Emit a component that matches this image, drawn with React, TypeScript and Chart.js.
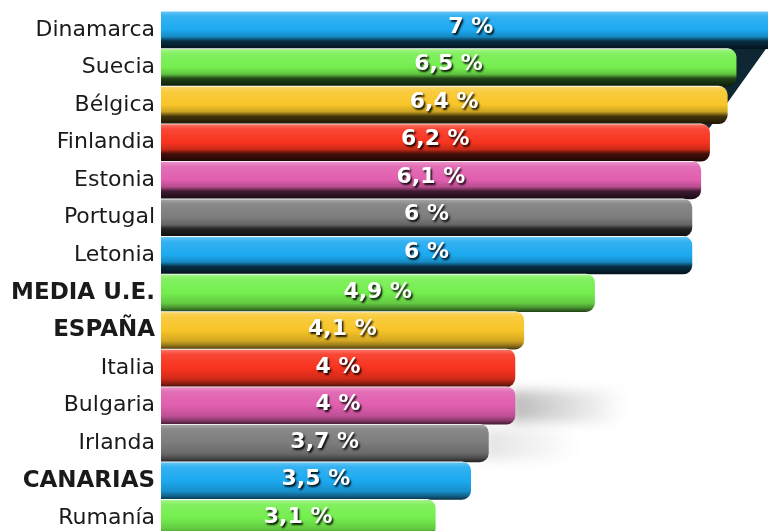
import React, { useEffect, useRef } from "react";
import { Chart, registerables } from "chart.js";

Chart.register(...registerables);

const categories = [
  "Dinamarca", "Suecia", "Bélgica", "Finlandia", "Estonia", "Portugal", "Letonia",
  "MEDIA U.E.", "ESPAÑA", "Italia", "Bulgaria", "Irlanda", "CANARIAS", "Rumanía",
];
const values = [7, 6.5, 6.4, 6.2, 6.1, 6, 6, 4.9, 4.1, 4, 4, 3.7, 3.5, 3.1];
const valueLabels = [
  "7 %", "6,5 %", "6,4 %", "6,2 %", "6,1 %", "6 %", "6 %",
  "4,9 %", "4,1 %", "4 %", "4 %", "3,7 %", "3,5 %", "3,1 %",
];
const boldCategories = ["MEDIA U.E.", "ESPAÑA", "CANARIAS"];
const barColors = [
  "#1CA9F0", "#74EE4E", "#F8C528", "#F8331F", "#E05EAE", "#7C7C7C", "#1CA9F0",
  "#74EE4E", "#F8C528", "#F8331F", "#E05EAE", "#7C7C7C", "#1CA9F0", "#74EE4E",
];

function mix(hex: string, target: string, t: number): string {
  const p = (h: string) => [1, 3, 5].map((k) => parseInt(h.slice(k, k + 2), 16));
  const a = p(hex);
  const b = p(target);
  const c = a.map((v, i) => Math.round(v + (b[i] - v) * t));
  return `rgb(${c[0]},${c[1]},${c[2]})`;
}

const glossPlugin = {
  id: "gloss",
  beforeDatasetsDraw(chart: any) {
    const ctx = chart.ctx;
    const meta = chart.getDatasetMeta(0);
    const area = chart.chartArea;
    // perspective side face under the longest bar
    const d0: any = meta.data[0];
    const d3: any = meta.data[3];
    if (d0 && d3) {
      ctx.save();
      ctx.beginPath();
      ctx.rect(area.left, area.top, area.right - area.left, area.bottom - area.top);
      ctx.clip();
      const b0 = d0.y + d0.height / 2;
      const t3 = d3.y - d3.height / 2;
      ctx.beginPath();
      ctx.moveTo(d3.x - 60, b0 - 3);
      ctx.lineTo(d0.x - 12, b0 - 3);
      ctx.lineTo(d3.x, t3 + 4);
      ctx.lineTo(d3.x - 60, t3 + 4);
      ctx.closePath();
      ctx.fillStyle = "#0F2633";
      ctx.fill();
      ctx.restore();
    }
    // soft shadow at right of lower bars
    const shadowSpecs: [number, number, number][] = [
      [10, 0.26, 110],
      [11, 0.1, 90],
    ];
    shadowSpecs.forEach(([idx, alpha, len]) => {
      const e: any = meta.data[idx];
      if (!e) return;
      ctx.save();
      const g = ctx.createLinearGradient(e.x, 0, e.x + len, 0);
      g.addColorStop(0, `rgba(0,0,0,${alpha})`);
      g.addColorStop(1, "rgba(0,0,0,0)");
      ctx.filter = "blur(6px)";
      ctx.fillStyle = g;
      ctx.fillRect(e.x - 5, e.y - e.height / 2 + 4, len + 5, e.height - 6);
      ctx.restore();
    });
    meta.data.forEach((el: any, i: number) => {
      const top = el.y - el.height / 2;
      const bottom = el.y + el.height / 2;
      const c = barColors[i];
      const g = ctx.createLinearGradient(0, top, 0, bottom);
      g.addColorStop(0, "#FFFFFF");
      g.addColorStop(0.03, mix(c, "#FFFFFF", 0.3));
      g.addColorStop(0.14, mix(c, "#FFFFFF", 0.1));
      g.addColorStop(0.5, c);
      if (i < 7) {
        g.addColorStop(0.68, mix(c, "#000000", 0.18));
        g.addColorStop(0.8, mix(c, "#000000", 0.72));
        g.addColorStop(1, mix(c, "#000000", 0.88));
      } else {
        g.addColorStop(0.78, mix(c, "#000000", 0.15));
        g.addColorStop(0.9, mix(c, "#000000", 0.4));
        g.addColorStop(1, mix(c, "#000000", 0.7));
      }
      el.options = { ...el.options, backgroundColor: g };
    });
  },
  afterDatasetsDraw(chart: any) {
    const ctx = chart.ctx;
    const meta = chart.getDatasetMeta(0);
    ctx.save();
    ctx.font = "bold 22px 'DejaVu Sans'";
    ctx.textAlign = "center";
    ctx.textBaseline = "middle";
    meta.data.forEach((el: any, i: number) => {
      const cx = (el.x + el.base) / 2;
      const cy = el.y - (i < 7 ? 3 : 1);
      ctx.shadowColor = "rgba(0,0,0,0.9)";
      ctx.shadowOffsetX = 1.5;
      ctx.shadowOffsetY = 2;
      ctx.shadowBlur = 2;
      ctx.fillStyle = "#FFFFFF";
      ctx.fillText(valueLabels[i], cx, cy);
    });
    ctx.restore();
  },
};

export default function App() {
  const canvasRef = useRef<HTMLCanvasElement | null>(null);

  useEffect(() => {
    document.body.style.margin = "0";
    const canvas = canvasRef.current;
    if (!canvas) return;
    const chart = new Chart(canvas, {
      type: "bar",
      data: {
        labels: categories,
        datasets: [
          {
            data: values,
            backgroundColor: barColors,
            borderWidth: 0,
            borderRadius: 9,
            borderSkipped: "start",
            categoryPercentage: 1,
            barPercentage: 1,
          },
        ],
      },
      options: {
        indexAxis: "y",
        animation: false,
        responsive: false,
        maintainAspectRatio: false,
        layout: { padding: { top: 11, bottom: 3, left: 0, right: 0 } },
        plugins: {
          legend: { display: false },
          tooltip: { enabled: false },
        },
        scales: {
          x: {
            display: false,
            min: 0,
            max: 6.86,
          },
          y: {
            grid: { display: false, drawTicks: false },
            border: { display: false },
            afterFit(scale: any) {
              scale.width = 161;
              scale.paddingTop = 0;
              scale.paddingBottom = 0;
            },
            ticks: {
              padding: 6,
              color: "#1A1A1A",
              font: (ctx: any) => {
                const bold = boldCategories.includes(categories[ctx.index]);
                return {
                  family: "'DejaVu Sans'",
                  size: bold ? 23 : 22,
                  weight: bold ? "bold" : "normal",
                };
              },
            },
          },
        },
      },
      plugins: [glossPlugin],
    });
    return () => chart.destroy();
  }, []);

  return (
    <div style={{ width: 768, height: 531, overflow: "hidden", background: "#FFFFFF" }}>
      <canvas ref={canvasRef} width={768} height={540} style={{ display: "block" }} />
    </div>
  );
}
